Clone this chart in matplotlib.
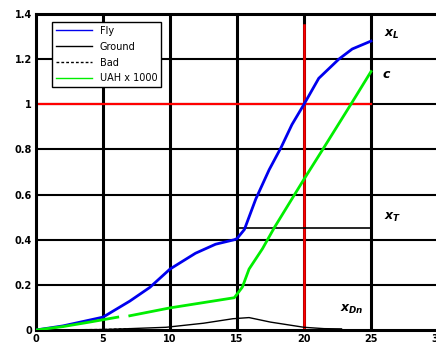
import numpy as np
import matplotlib
matplotlib.use("Agg")
import matplotlib.pyplot as plt

plt.rcParams['font.family'] = ['DejaVu Sans']
plt.rcParams['mathtext.fontset'] = 'custom'
plt.rcParams['mathtext.it'] = 'DejaVu Sans:italic:bold'
plt.rcParams['mathtext.rm'] = 'DejaVu Sans:bold'

# data
fly_x = [0, 2, 5, 7, 8.5, 10, 11.9, 13.4, 14.8, 15, 15.55, 16.4, 17.4, 18.3, 19.1, 20, 21.1, 22.6, 23.6, 25]
fly_y = [0, 0.018, 0.057, 0.128, 0.189, 0.27, 0.34, 0.38, 0.40, 0.405, 0.445, 0.58, 0.71, 0.81, 0.91, 1.0, 1.115, 1.2, 1.245, 1.28]

ground_x = [0, 5, 7, 9.7, 12.5, 14.7, 15.9, 17.5, 20, 21.5, 22.8]
ground_y = [0, 0.002, 0.006, 0.012, 0.03, 0.05, 0.055, 0.035, 0.012, 0.006, 0.005]

bad_x = [0, 5, 7]
bad_y = [0, 0.002, 0.006]

uah_x = [0, 2, 4, 6.1, np.nan, 7.0, 10, 14.8, 15.4, 15.9, 16.9, 17.8, 19.4, 20, 21.4, 23.5, 25]
uah_y = [0, 0.015, 0.035, 0.057, np.nan, 0.063, 0.098, 0.143, 0.19, 0.27, 0.36, 0.455, 0.61, 0.668, 0.8, 1.0, 1.145]

x_ticks = [0, 5, 10, 15, 20, 25, 30]
y_ticks = [0, 0.2, 0.4, 0.6, 0.8, 1.0, 1.2, 1.4]
y_labels = ['0', '0.2', '0.4', '0.6', '0.8', '1', '1.2', '1.4']

fig = plt.figure(figsize=(4.36, 3.47), dpi=100)
ax = fig.add_axes([36 / 436, 17 / 347, 402 / 436, 316 / 347])
ax.set_xlim(0, 30)
ax.set_ylim(0, 1.4)

# grid
for xv in x_ticks[1:]:
    ax.axvline(xv, color='black', lw=2.2, zorder=1)
for yv in y_ticks[1:]:
    ax.axhline(yv, color='black', lw=1.5, zorder=1)

# reference lines
ax.plot([0, 25], [1, 1], color='red', lw=1.6, zorder=2)
ax.plot([20, 20], [0, 1.35], color='red', lw=1.8, zorder=2)
ax.plot([15, 25], [0.45, 0.45], color='black', lw=1.2, zorder=2)

l1, = ax.plot(fly_x, fly_y, color='#0000ee', lw=2.0, zorder=4, label='Fly')
l2, = ax.plot(ground_x, ground_y, color='black', lw=1.0, zorder=3, label='Ground')
l3, = ax.plot(bad_x, bad_y, color='black', lw=1.0, ls=(0, (2, 1.5)), zorder=3, label='Bad')
l4, = ax.plot(uah_x, uah_y, color='#00ee00', lw=2.0, zorder=4, label='UAH x 1000')

ax.text(26, 1.31, r'$x_L$', fontsize=9, ha='left', va='center')
ax.text(25.8, 1.13, r'$c$', fontsize=9, ha='left', va='center')
ax.text(26, 0.50, r'$x_T$', fontsize=9, ha='left', va='center')
ax.text(22.7, 0.09, r'$x_{Dn}$', fontsize=9, ha='left', va='center')

ax.set_xticks(x_ticks)
ax.set_xticklabels([str(v) for v in x_ticks], fontsize=7, fontweight='bold')
ax.set_yticks(y_ticks)
ax.set_yticklabels(y_labels, fontsize=7, fontweight='bold')
ax.tick_params(length=0, pad=3)

for s in ['left', 'bottom', 'top']:
    ax.spines[s].set_linewidth(2.2)
ax.spines['right'].set_visible(False)

leg = ax.legend(handles=[l1, l2, l3, l4], loc='upper left',
                bbox_to_anchor=(52 / 436, 1 - 22 / 347), bbox_transform=fig.transFigure,
                borderaxespad=0, fontsize=7, fancybox=False, framealpha=1,
                edgecolor='black', handlelength=3.7, labelspacing=0.6)
leg.get_frame().set_linewidth(1.0)
for h in leg.get_lines():
    h.set_linewidth(1.0)
leg.set_zorder(5)

fig.savefig('out.png', dpi=100)
